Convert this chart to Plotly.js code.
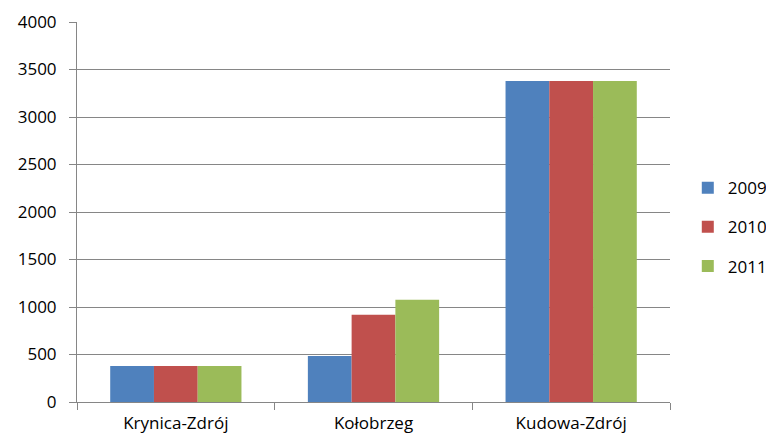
<!DOCTYPE html>
<html>
<head>
<meta charset="utf-8">
<script src="https://cdn.plot.ly/plotly-3.0.1.min.js"></script>
<style>html,body{margin:0;padding:0;background:#fff;}#chart{width:766px;height:437px;}</style>
</head>
<body>
<div id="chart"></div>
<script>
const categories = ["Krynica-Zdrój", "Kołobrzeg", "Kudowa-Zdrój"];
const seriesNames = ["2009", "2010", "2011"];
const values2009 = [380, 484, 3380];
const values2010 = [380, 918, 3380];
const values2011 = [380, 1077, 3380];
const colors = ["#4F81BD", "#C0504D", "#9BBB59"];
const yTicks = [0, 500, 1000, 1500, 2000, 2500, 3000, 3500, 4000];

const allValues = [values2009, values2010, values2011];
const traces = allValues.map((v, i) => ({
  type: "bar",
  name: seriesNames[i],
  x: categories,
  y: v,
  marker: {color: colors[i], line: {width: 0}},
  legendgroup: "g" + i
}));

const font = {family: "'Open Sans', sans-serif", size: 17, color: "#000"};
Plotly.newPlot("chart", traces, {
  width: 766, height: 437,
  margin: {l: 77, r: 96, t: 22, b: 35, autoexpand: false},
  paper_bgcolor: "#fff", plot_bgcolor: "#fff",
  font: font,
  barmode: "group",
  bargap: 0.336,
  bargroupgap: 0,
  showlegend: true,
  legend: {x: 1.03, y: 0.46, xanchor: "left", yanchor: "middle", font: font,
           tracegroupgap: 14, itemwidth: 30, bgcolor: "rgba(0,0,0,0)"},
  xaxis: {type: "category", tickson: "boundaries", ticks: "outside", ticklen: 7,
          tickcolor: "#868686", showline: true, linecolor: "#868686", linewidth: 1,
          showgrid: false, tickfont: font, ticklabelstandoff: 6},
  yaxis: {range: [0, 4000], tickvals: yTicks, ticks: "outside", ticklen: 7,
          tickcolor: "#868686", showline: true, linecolor: "#868686", linewidth: 1,
          showgrid: true, gridcolor: "#868686", gridwidth: 1, zeroline: false,
          tickfont: font, ticklabelstandoff: 9}
}, {staticPlot: true, displayModeBar: false});
</script>
</body>
</html>
